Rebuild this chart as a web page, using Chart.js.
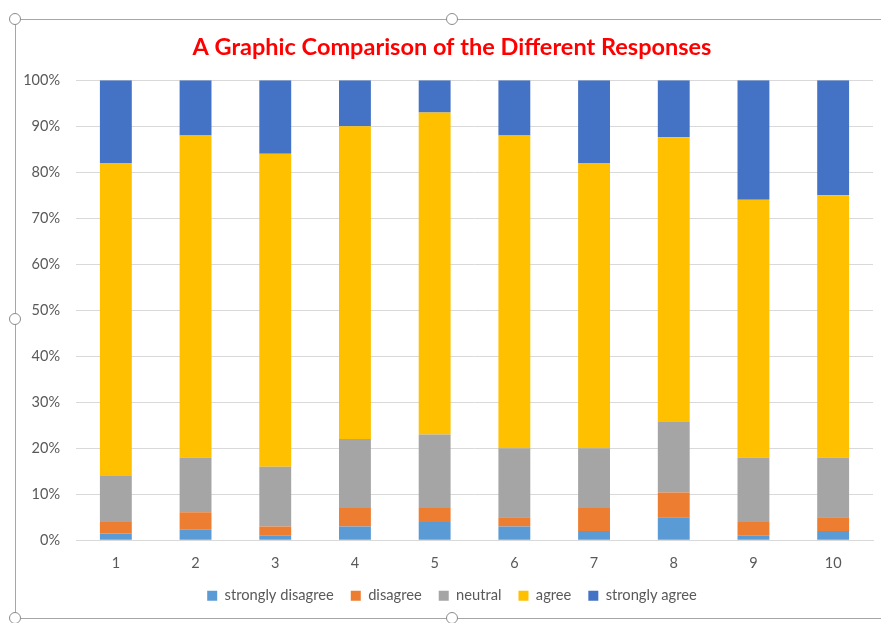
<!DOCTYPE html>
<html>
<head>
<meta charset="utf-8">
<script src="https://cdn.jsdelivr.net/npm/chart.js@4"></script>
<style>
  body { margin: 0; background: #fff; }
  #wrap { position: relative; width: 881px; height: 623px; overflow: hidden; }
  #frame { position: absolute; left: 15px; top: 19px; width: 900px; height: 598px; border: 1px solid #a6a6a6; border-right: none; }
  .handle { position: absolute; width: 10px; height: 10px; border: 1.5px solid #8c8c8c; border-radius: 50%; background: #fff; }
  canvas { position: absolute; left: 0; top: 0; }
</style>
</head>
<body>
<div id="wrap">
  <div id="frame"></div>
  <div class="handle" style="left:9px;top:13px"></div>
  <div class="handle" style="left:446px;top:13px"></div>
  <div class="handle" style="left:9px;top:313px"></div>
  <div class="handle" style="left:9px;top:612px"></div>
  <div class="handle" style="left:446px;top:612px"></div>
  <canvas id="chart" width="881" height="623"></canvas>
</div>
<script>
const questions = ["1", "2", "3", "4", "5", "6", "7", "8", "9", "10"];
const stronglyDisagree = [1.5, 2.3, 1, 3, 4, 3, 2, 5, 1, 2];
const disagree = [2.5, 3.8, 2, 4, 3, 2, 5, 5.4, 3, 3];
const neutral = [10, 11.9, 13, 15, 16, 15, 13, 15.3, 14, 13];
const agree = [68, 70, 68, 68, 70, 68, 62, 61.9, 56, 57];
const stronglyAgree = [18, 12, 16, 10, 7, 12, 18, 12.4, 26, 25];

// title + legend in the original are centred on the whole frame, not the canvas
const centerShift = {
  id: "centerShift",
  afterLayout(chart) {
    chart.titleBlock.left += 18;
    chart.legend.left += 18;
  },
};

const ctx = document.getElementById("chart").getContext("2d");
const myChart = new Chart(ctx, {
  type: "bar",
  data: {
    labels: questions,
    datasets: [
      { label: "strongly disagree", data: stronglyDisagree, backgroundColor: "#5B9BD5" },
      { label: "disagree", data: disagree, backgroundColor: "#ED7D31" },
      { label: "neutral", data: neutral, backgroundColor: "#A5A5A5" },
      { label: "agree", data: agree, backgroundColor: "#FFC000" },
      { label: "strongly agree", data: stronglyAgree, backgroundColor: "#4472C4" },
    ],
  },
  plugins: [centerShift],
  options: {
    responsive: false,
    animation: false,
    datasets: { bar: { categoryPercentage: 1, barPercentage: 0.4 } },
    layout: { padding: { top: 33, left: 13, right: 8, bottom: 10 } },
    plugins: {
      title: {
        display: true,
        text: "A Graphic Comparison of the Different Responses",
        color: "#FF0000",
        font: { family: "Lato", size: 23.5, weight: "bold" },
        padding: { top: 0, bottom: 19 },
      },
      legend: {
        position: "bottom",
        labels: {
          color: "#595959",
          font: { family: "Lato", size: 14.7 },
          boxWidth: 10,
          boxHeight: 10,
          padding: 17,
        },
      },
      tooltip: { enabled: false },
    },
    scales: {
      x: {
        stacked: true,
        grid: { display: false },
        border: { color: "#d9d9d9" },
        ticks: { color: "#595959", font: { family: "Lato", size: 14.5 }, padding: 6 },
        afterFit: (axis) => { axis.height = 31; },
      },
      y: {
        stacked: true,
        min: 0,
        max: 100,
        grid: { color: "#d9d9d9", drawTicks: false },
        border: { display: false },
        ticks: {
          stepSize: 10,
          color: "#595959",
          font: { family: "Lato", size: 14.5 },
          padding: 16,
          callback: (v) => v + "%",
        },
        afterFit: (axis) => { axis.width = 63; },
      },
    },
  },
});
</script>
</body>
</html>
